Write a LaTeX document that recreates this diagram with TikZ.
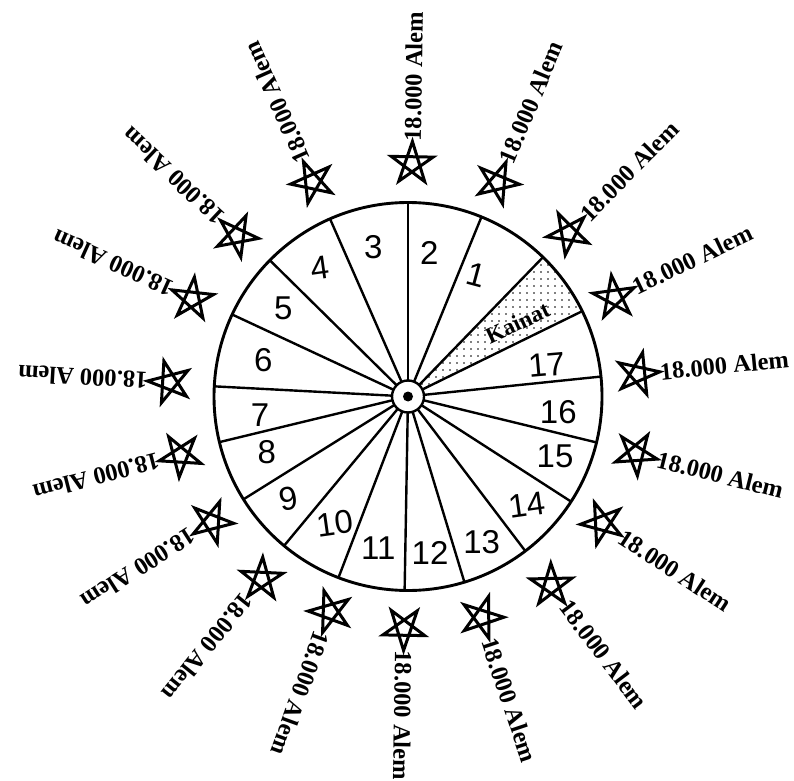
\documentclass[tikz,border=0pt]{standalone}
\usepackage{fontspec}
\setmainfont{Liberation Serif}
\newfontfamily\handfont{Liberation Sans}
\usetikzlibrary{patterns.meta}
\begin{document}
\begin{tikzpicture}[x=1pt,y=1pt,
  lbl/.style={font=\bfseries\fontsize{24.5}{26}\selectfont, inner sep=0pt, anchor=west},
  num/.style={font=\handfont\fontsize{33}{35}\selectfont, inner sep=0pt},
  starline/.style={line width=3pt, line join=miter},
  spoke/.style={line width=2.4pt},
  rim/.style={line width=2.9pt},
]
\useasboundingbox (0,0) rectangle (794,780);
\begin{scope}[shift={(408,383.5)}]
  % Kainat sector
  \fill[pattern={Dots[distance=6.5pt,radius=0.95pt]}]
    (26.1:16) -- (26.1:194) arc[start angle=26.1,end angle=45.9,radius=194pt]
    -- (45.9:16) arc[start angle=45.9,end angle=26.1,radius=16pt] -- cycle;
  % spokes
  \foreach \a in {90,67.75,45.9,26.1,5.9,-13.7,-32.8,-52.8,-73.1,-91,-111,-129.7,-148,-166.4,177,155,135.4,113.7}
    \draw[spoke] (\a:16) -- (\a:194);
  \draw[rim] (0,0) circle[radius=194pt];
  \draw[line width=2.4pt] (0,0) circle[radius=16pt];
  \fill (0,0) circle[radius=5pt];
  % stars and labels
  \foreach \a/\r [count=\i] in {89/233,67.3/232,45.5/229,25.7/229,5.6/231,-14.1/235,-33.1/232,-52.8/237,-71.5/233,-91/232,-109.9/229,-128.7/234,-147.4/233,-165.5/235,176.6/239,155.7/237,136.8/235,114/235}{
    \pgfmathsetmacro\rr{\r+22}
    \draw[starline, shift={(\a:\r)}, rotate=\a]
      (0:22) -- (144:22) -- (288:22) -- (72:22) -- (216:22) -- cycle;
    \node[lbl, rotate=\a] (L\i) at (\a:\rr) {18.000 Alem};
  }
  % sector numbers
  \node[num, rotate=-15] (n1) at (68,121.5) {1};
  \node[num] (n2) at (21.3,143.2) {2};
  \node[num] (n3) at (-34.7,149.8) {3};
  \node[num, rotate=8] (n4) at (-88,128.2) {4};
  \node[num] (n5) at (-124.7,88.2) {5};
  \node[num] (n6) at (-144.7,36.5) {6};
  \node[num] (n7) at (-148,-18.5) {7};
  \node[num] (n8) at (-141.3,-55.2) {8};
  \node[num, rotate=10] (n9) at (-119.7,-101.8) {9};
  \node[num, rotate=8] (n10) at (-73,-126.8) {10};
  \node[num] (n11) at (-29.7,-151.8) {11};
  \node[num] (n12) at (22,-156.8) {12};
  \node[num] (n13) at (73.7,-145.2) {13};
  \node[num, rotate=8] (n14) at (118.7,-108.5) {14};
  \node[num] (n15) at (147,-60.2) {15};
  \node[num] (n16) at (150.3,-15.2) {16};
  \node[num, rotate=5] (n17) at (138.7,31.5) {17};
  \node[font=\bfseries\fontsize{23}{25}\selectfont, rotate=25, inner sep=0pt] (kainat) at (34:132) {Kainat};
\end{scope}
\end{tikzpicture}
\end{document}
